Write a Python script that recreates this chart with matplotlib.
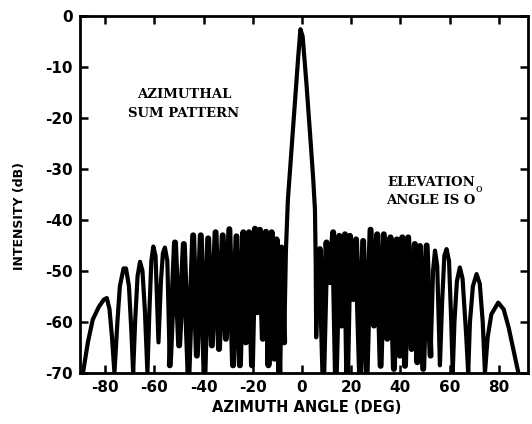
import numpy as np
import matplotlib
matplotlib.use('Agg')
import matplotlib.pyplot as plt

plt.rcParams['axes.unicode_minus'] = False

# Sidelobes left of the main beam (angle in deg, level in dB)
left_angle = [-89.0, -87.0, -85.0, -82.5, -80.5, -79.3, -78.2, -77.2, -76.2,
              -75.0, -74.0, -72.5, -71.5, -70.3, -69.3, -68.6,
              -67.8, -66.8, -65.8, -64.8, -63.8, -62.8,
              -62.0, -61.2, -60.4, -59.5, -58.3,
              -57.3, -56.5, -55.7, -54.7, -53.7,
              -51.6, -49.9, -48.0, -46.1, -44.2, -42.7, -41.1, -39.6,
              -38.1, -36.6, -35.1, -33.7, -32.2, -30.9, -29.5, -28.0,
              -26.6, -25.2, -23.8, -22.8, -21.5, -20.3, -19.1, -18.2,
              -17.1, -15.9, -14.6, -13.6, -12.3, -11.2, -10.3, -9.2,
              -8.3, -7.2]
left_db = [-70.0, -64.0, -59.5, -57.0, -55.6, -55.3, -57.5, -63.0, -70.0,
           -60.0, -53.0, -49.5, -49.5, -53.0, -62.0, -70.0,
           -60.0, -51.0, -48.2, -50.0, -58.0, -70.0,
           -58.0, -48.0, -45.2, -47.0, -64.0,
           -52.0, -46.5, -45.4, -48.0, -68.5,
           -44.4, -64.6, -44.7, -70.0, -43.0, -66.6, -43.0, -70.0,
           -43.6, -64.6, -42.4, -65.3, -43.0, -63.3, -41.8, -68.5,
           -43.2, -68.5, -42.4, -64.0, -42.4, -68.5, -41.7, -58.1,
           -41.9, -63.3, -42.3, -68.5, -42.4, -67.2, -43.8, -70.0,
           -45.4, -64.0]

# Main beam
beam_angle = [-6.5, -5.7, -4.5, -3.0, -1.5, -0.6, 0.3, 1.8, 3.3, 4.6, 5.3, 5.6, 5.8]
beam_db = [-46.0, -36.0, -28.0, -18.0, -8.0, -2.6, -4.0, -13.0, -23.0, -32.0, -38.0, -48.0, -63.0]

# Sidelobes right of the main beam
right_angle = [6.6, 7.3, 8.7, 10.0, 11.4, 12.7, 13.8, 15.2, 16.1, 17.5, 18.4,
               19.5, 20.9, 22.0, 23.6, 24.9, 26.3, 27.9, 29.3, 30.6, 32.0,
               33.3, 34.7, 36.0, 37.4, 38.6, 39.8, 40.8, 41.9, 43.2, 44.6,
               45.9, 46.9, 48.0, 49.3, 50.7, 52.3,
               53.3, 54.1, 55.0, 56.1,
               57.0, 57.9, 58.8, 59.8, 60.7, 61.3,
               62.0, 63.0, 64.2, 65.3, 66.7, 67.6,
               68.3, 69.5, 71.0, 72.3, 73.5, 74.4,
               75.5, 77.0, 79.8, 82.0, 84.0, 86.0, 88.0]
right_db = [-50.0, -45.7, -70.0, -44.4, -52.2, -42.4, -70.0, -43.1, -60.7, -42.8, -70.0,
            -43.1, -55.5, -43.8, -70.0, -44.1, -70.0, -41.9, -60.7, -42.8, -68.6,
            -42.8, -63.3, -43.4, -69.2, -43.8, -66.6, -43.4, -68.6, -43.4, -65.3,
            -44.7, -67.9, -45.1, -69.2, -45.0, -66.6,
            -50.0, -46.0, -49.0, -68.5,
            -56.0, -47.0, -45.7, -48.0, -60.0, -70.0,
            -60.0, -52.0, -49.3, -51.5, -62.0, -70.0,
            -60.0, -53.0, -50.6, -52.5, -60.0, -70.0,
            -63.0, -58.5, -56.2, -57.5, -61.0, -65.5, -70.0]

x_ticks = [-80, -60, -40, -20, 0, 20, 40, 60, 80]
y_ticks = [0, -10, -20, -30, -40, -50, -60, -70]

angle = np.array(left_angle + beam_angle + right_angle)
level = np.array(left_db + beam_db + right_db)

fig = plt.figure(figsize=(5.32, 4.24), dpi=100)
ax = fig.add_axes([80 / 532, 1 - 373 / 424, 448 / 532, 357 / 424])

ax.plot(angle, level, color='black', lw=3.0, solid_joinstyle='round', solid_capstyle='round')

# the densely packed lobes merge into a solid band on the scan: heavier pen there
dense_l = (angle >= -54) & (angle <= -7)
dense_r = (angle >= 6.6) & (angle <= 52.3)
for m in (dense_l, dense_r):
    ax.plot(angle[m], level[m], color='black', lw=4.3,
            solid_joinstyle='round', solid_capstyle='round')

ax.set_xlim(-90.2, 91.9)
ax.set_ylim(-70, 0)
ax.set_xticks(x_ticks)
ax.set_yticks(y_ticks)
ax.set_xticklabels([str(v) for v in x_ticks])
ax.set_yticklabels([str(v) for v in y_ticks])

for s in ax.spines.values():
    s.set_linewidth(2)
ax.tick_params(direction='in', length=6, width=1.8, top=True, right=True,
               labelsize=11, pad=5)
for lab in ax.get_xticklabels() + ax.get_yticklabels():
    lab.set_fontweight('bold')

fig.text(307 / 532, 1 - 408 / 424, 'AZIMUTH ANGLE (DEG)', ha='center', va='center',
         fontsize=10.5, fontweight='bold')
fig.text(20 / 532, 1 - 216 / 424, 'INTENSITY (dB)', ha='center', va='center',
         rotation=90, fontsize=9, fontweight='bold')

ax.text(-48, -15.4, 'AZIMUTHAL', ha='center', va='center', fontsize=9.5,
        family='DejaVu Serif', fontweight='bold')
ax.text(-48, -19.1, 'SUM PATTERN', ha='center', va='center', fontsize=9.5,
        family='DejaVu Serif', fontweight='bold')
ax.text(52.4, -32.6, 'ELEVATION', ha='center', va='center', fontsize=9.5,
        family='DejaVu Serif', fontweight='bold')
ax.text(52.4, -36.1, 'ANGLE IS O', ha='center', va='center', fontsize=9.5,
        family='DejaVu Serif', fontweight='bold')
ax.text(72.0, -33.9, 'o', ha='center', va='center', fontsize=8,
        family='DejaVu Serif')

fig.savefig('out.png', dpi=100)
